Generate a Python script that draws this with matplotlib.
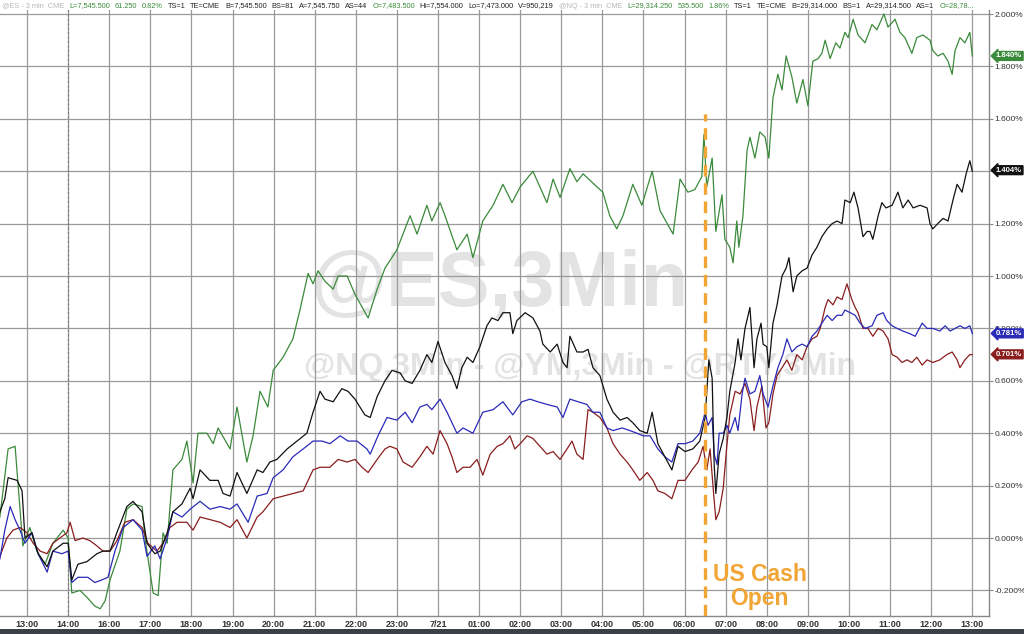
import matplotlib
matplotlib.use("Agg")
import matplotlib.pyplot as plt
from matplotlib.patches import Rectangle

# ── Data (x = hourly slot on the session axis, 0 = 13:00; values in %) ──────
X_LABELS = ["13:00", "14:00", "16:00", "17:00", "18:00", "19:00", "20:00", "21:00",
            "22:00", "23:00", "7/21", "01:00", "02:00", "03:00", "04:00", "05:00",
            "06:00", "07:00", "08:00", "09:00", "10:00", "11:00", "12:00", "13:00"]
Y_TICKS = [-0.2, 0.0, 0.2, 0.4, 0.6, 0.8, 1.0, 1.2, 1.4, 1.6, 1.8, 2.0]

NQ_X = [-0.66, -0.46, -0.29, -0.10, 0.07, 0.24, 0.44, 0.63, 0.88, 1.00, 1.09, 1.29, 1.48, 1.65,
        1.78, 1.90, 2.02, 2.26, 2.43, 2.58, 2.80, 2.87, 3.07, 3.19, 3.31, 3.41, 3.55, 3.77, 3.89,
        4.04, 4.16, 4.38, 4.53, 4.65, 4.94, 5.11, 5.35, 5.50, 5.67, 5.86, 5.99, 6.23, 6.47, 6.64,
        6.84, 6.96, 7.08, 7.25, 7.45, 7.57, 7.79, 7.98, 8.30, 8.52, 8.71, 9.00, 9.32, 9.49, 9.73,
        9.85, 10.05, 10.17, 10.46, 10.71, 10.85, 11.09, 11.34, 11.58, 11.80, 12.00, 12.31, 12.48,
        12.65, 12.80, 12.97, 13.21, 13.38, 13.53, 13.87, 14.01, 14.18, 14.35, 14.50, 14.74, 14.96,
        15.21, 15.40, 15.72, 15.89, 16.08, 16.25, 16.42, 16.47, 16.54, 16.67, 16.76, 16.91, 16.98,
        17.10, 17.18, 17.27, 17.32, 17.42, 17.52, 17.59, 17.71, 17.83, 17.96, 18.05, 18.15, 18.27,
        18.37, 18.47, 18.61, 18.73, 18.88, 19.00, 19.12, 19.25, 19.34, 19.42, 19.54, 19.68, 19.78,
        19.90, 19.98, 20.10, 20.22, 20.39, 20.56, 20.68, 20.85, 20.95, 21.12, 21.24, 21.36, 21.53,
        21.65, 21.80, 21.97, 22.04, 22.16, 22.29, 22.41, 22.51, 22.58, 22.70, 22.82, 22.94, 23.00]
NQ = [0.08, 0.34, 0.35, -0.03, 0.04, -0.05, -0.10, -0.02, 0.03, 0.00, -0.21, -0.20, -0.23, -0.26,
      -0.27, -0.24, -0.16, -0.05, 0.11, 0.13, 0.12, 0.00, -0.21, -0.22, 0.02, -0.02, 0.26, 0.30, 0.37,
      0.21, 0.40, 0.40, 0.36, 0.42, 0.34, 0.50, 0.29, 0.39, 0.56, 0.50, 0.64, 0.69, 0.76, 0.87,
      1.01, 0.97, 1.02, 0.98, 0.95, 1.00, 1.00, 0.93, 0.84, 0.95, 1.03, 1.10, 1.23, 1.16, 1.27,
      1.21, 1.28, 1.23, 1.10, 1.16, 1.07, 1.21, 1.27, 1.35, 1.28, 1.34, 1.40, 1.34,
      1.28, 1.37, 1.30, 1.41, 1.36, 1.39, 1.34, 1.32, 1.23, 1.18, 1.23, 1.35, 1.27,
      1.40, 1.25, 1.16, 1.37, 1.32, 1.33, 1.38, 1.54, 1.34, 1.45, 1.17, 1.31, 1.14,
      1.11, 1.05, 1.21, 1.11, 1.23, 1.48, 1.53, 1.45, 1.55, 1.53, 1.45, 1.68, 1.77,
      1.71, 1.84, 1.76, 1.66, 1.75, 1.65, 1.82, 1.83, 1.85, 1.90, 1.83, 1.89, 1.87,
      1.93, 1.91, 1.98, 1.92, 1.89, 1.96, 1.94, 2.00, 1.95, 1.98, 1.93, 1.91, 1.85,
      1.91, 1.92, 1.90, 1.86, 1.84, 1.85, 1.82, 1.77, 1.86, 1.91, 1.89, 1.93, 1.84]

ES_X = [-0.66, -0.54, -0.46, -0.24, -0.12, -0.05, 0.12, 0.27, 0.49, 0.63, 0.88, 1.00, 1.09, 1.24,
        1.46, 1.70, 1.85, 2.02, 2.21, 2.43, 2.58, 2.80, 2.92, 3.11, 3.24, 3.41, 3.55, 3.77, 3.97,
        4.04, 4.21, 4.45, 4.65, 4.77, 4.94, 5.11, 5.35, 5.60, 5.74, 5.91, 6.08, 6.33, 6.57, 6.81,
        6.96, 7.13, 7.25, 7.45, 7.66, 7.81, 7.98, 8.22, 8.35, 8.52, 8.71, 8.88, 9.08, 9.20, 9.37,
        9.56, 9.73, 9.85, 10.00, 10.17, 10.34, 10.46, 10.58, 10.71, 10.85, 11.02, 11.19, 11.31,
        11.46, 11.58, 11.75, 11.82, 11.92, 12.12, 12.31, 12.48, 12.55, 12.73, 12.90, 13.04, 13.14,
        13.21, 13.38, 13.53, 13.65, 13.77, 13.94, 14.11, 14.26, 14.43, 14.60, 14.74, 14.91, 15.09,
        15.21, 15.35, 15.52, 15.69, 15.84, 16.01, 16.20, 16.37, 16.50, 16.59, 16.67, 16.72, 16.76,
        16.84, 16.94, 17.03, 17.10, 17.23, 17.30, 17.37, 17.47, 17.59, 17.69, 17.76, 17.86, 17.91,
        18.00, 18.05, 18.15, 18.25, 18.37, 18.47, 18.54, 18.64, 18.73, 18.86, 18.98, 19.10, 19.22,
        19.34, 19.47, 19.59, 19.71, 19.83, 19.90, 20.03, 20.12, 20.22, 20.34, 20.44, 20.51, 20.58,
        20.71, 20.80, 20.90, 21.05, 21.19, 21.31, 21.44, 21.56, 21.73, 21.90, 21.97, 22.04, 22.16,
        22.29, 22.41, 22.53, 22.63, 22.75, 22.85, 22.94, 23.00]
ES = [0.10, 0.15, 0.23, 0.22, 0.18, 0.00, 0.02, -0.06, -0.11, -0.05, -0.02, -0.02, -0.16, -0.10,
      -0.09, -0.06, -0.05, -0.05, 0.03, 0.12, 0.14, 0.10, -0.02, -0.06, -0.05, 0.02, 0.10, 0.13, 0.19,
      0.15, 0.26, 0.22, 0.22, 0.17, 0.16, 0.25, 0.17, 0.26, 0.25, 0.29, 0.30, 0.34, 0.37, 0.40,
      0.48, 0.56, 0.53, 0.52, 0.57, 0.56, 0.53, 0.47, 0.46, 0.54, 0.60, 0.64, 0.63, 0.60, 0.59,
      0.64, 0.70, 0.67, 0.75, 0.67, 0.62, 0.57, 0.65, 0.69, 0.67, 0.73, 0.81, 0.84,
      0.83, 0.86, 0.86, 0.78, 0.83, 0.86, 0.84, 0.79, 0.74, 0.71, 0.74, 0.67, 0.65,
      0.77, 0.71, 0.71, 0.72, 0.65, 0.62, 0.53, 0.48, 0.45, 0.46, 0.44, 0.41, 0.40,
      0.48, 0.36, 0.31, 0.26, 0.35, 0.33, 0.34, 0.37, 0.46, 0.68, 0.61, 0.28, 0.17,
      0.32, 0.38, 0.46, 0.56, 0.67, 0.76, 0.68, 0.80, 0.88, 0.65, 0.76, 0.82, 0.74,
      0.73, 0.65, 0.82, 0.89, 1.00, 1.03, 1.07, 0.94, 1.00, 1.02, 1.03, 1.08, 1.11,
      1.15, 1.18, 1.20, 1.21, 1.20, 1.29, 1.28, 1.32, 1.26, 1.15, 1.17, 1.17, 1.14,
      1.23, 1.28, 1.26, 1.27, 1.32, 1.26, 1.29, 1.26, 1.27, 1.26, 1.20, 1.18, 1.20,
      1.22, 1.21, 1.29, 1.35, 1.32, 1.39, 1.44, 1.40]

YM_X = [-0.66, -0.54, -0.41, -0.29, -0.17, -0.05, 0.12, 0.27, 0.49, 0.63, 0.85, 1.00, 1.09, 1.24,
        1.48, 1.65, 1.82, 1.97, 2.14, 2.34, 2.58, 2.80, 2.92, 3.11, 3.24, 3.41, 3.55, 3.77, 3.97,
        4.21, 4.45, 4.70, 4.94, 5.11, 5.38, 5.60, 5.84, 5.99, 6.23, 6.47, 6.72, 6.96, 7.18, 7.37,
        7.62, 7.81, 8.03, 8.27, 8.35, 8.54, 8.76, 9.00, 9.20, 9.37, 9.56, 9.73, 9.85, 10.05, 10.22,
        10.46, 10.61, 10.85, 11.09, 11.34, 11.58, 11.82, 12.04, 12.24, 12.43, 12.65, 12.90, 13.04,
        13.21, 13.41, 13.62, 13.77, 13.94, 14.11, 14.26, 14.48, 14.67, 14.84, 14.99, 15.16, 15.35,
        15.52, 15.69, 15.84, 16.01, 16.20, 16.37, 16.50, 16.57, 16.67, 16.72, 16.79, 16.84, 16.94,
        17.03, 17.10, 17.23, 17.30, 17.40, 17.47, 17.59, 17.71, 17.83, 17.91, 18.03, 18.15, 18.27,
        18.39, 18.49, 18.61, 18.73, 18.86, 18.98, 19.10, 19.22, 19.34, 19.47, 19.59, 19.71, 19.83,
        19.90, 20.03, 20.15, 20.27, 20.39, 20.56, 20.68, 20.83, 20.92, 21.05, 21.17, 21.31, 21.48,
        21.61, 21.78, 21.90, 22.04, 22.21, 22.34, 22.46, 22.58, 22.70, 22.82, 22.94, 23.00]
YM = [-0.08, 0.03, 0.12, 0.07, 0.03, -0.02, 0.02, -0.06, -0.13, -0.05, -0.06, -0.05, -0.17, -0.15,
      -0.15, -0.17, -0.16, -0.15, -0.05, 0.04, 0.07, 0.03, -0.07, -0.03, -0.08, 0.00, 0.10, 0.08, 0.11,
      0.14, 0.11, 0.12, 0.11, 0.13, 0.06, 0.16, 0.17, 0.23, 0.26, 0.31, 0.34, 0.37, 0.37, 0.36,
      0.39, 0.37, 0.37, 0.34, 0.32, 0.39, 0.46, 0.45, 0.48, 0.44, 0.50, 0.51, 0.49, 0.53, 0.48,
      0.40, 0.42, 0.40, 0.48, 0.49, 0.52, 0.47, 0.52, 0.53, 0.52, 0.51, 0.50, 0.46,
      0.53, 0.52, 0.51, 0.48, 0.48, 0.42, 0.41, 0.42, 0.41, 0.40, 0.39, 0.39, 0.34,
      0.31, 0.29, 0.36, 0.36, 0.37, 0.40, 0.48, 0.43, 0.46, 0.32, 0.28, 0.40, 0.40,
      0.43, 0.40, 0.46, 0.41, 0.55, 0.61, 0.55, 0.56, 0.62, 0.55, 0.50, 0.58, 0.65,
      0.70, 0.76, 0.71, 0.73, 0.74, 0.73, 0.77, 0.79, 0.82, 0.85, 0.83, 0.85, 0.85,
      0.87, 0.86, 0.85, 0.82, 0.80, 0.81, 0.85, 0.86, 0.83, 0.81, 0.80, 0.79, 0.78,
      0.77, 0.82, 0.80, 0.80, 0.79, 0.81, 0.79, 0.80, 0.81, 0.80, 0.81, 0.78]

RTY_X = [-0.66, -0.49, -0.34, -0.17, 0.00, 0.15, 0.32, 0.49, 0.63, 0.80, 0.97, 1.05, 1.17, 1.36,
         1.53, 1.70, 1.85, 2.02, 2.19, 2.38, 2.58, 2.80, 2.94, 3.16, 3.31, 3.48, 3.65, 3.89, 4.04,
         4.21, 4.45, 4.70, 4.94, 5.11, 5.35, 5.60, 5.74, 5.99, 6.23, 6.47, 6.72, 6.96, 7.13, 7.37,
         7.57, 7.79, 7.98, 8.15, 8.30, 8.52, 8.71, 8.83, 9.00, 9.15, 9.37, 9.56, 9.73, 9.88, 10.05,
         10.22, 10.34, 10.46, 10.61, 10.78, 10.95, 11.09, 11.27, 11.44, 11.58, 11.75, 11.87, 12.00,
         12.17, 12.31, 12.48, 12.65, 12.80, 12.97, 13.14, 13.26, 13.38, 13.53, 13.65, 13.77, 13.94,
         14.11, 14.26, 14.43, 14.60, 14.74, 14.91, 15.09, 15.23, 15.35, 15.52, 15.69, 15.84, 16.01,
         16.18, 16.33, 16.45, 16.54, 16.62, 16.69, 16.76, 16.84, 16.94, 17.01, 17.10, 17.23, 17.35,
         17.47, 17.59, 17.69, 17.76, 17.88, 17.98, 18.05, 18.15, 18.25, 18.37, 18.49, 18.61, 18.73,
         18.86, 18.98, 19.10, 19.22, 19.30, 19.42, 19.49, 19.61, 19.71, 19.83, 19.95, 20.07, 20.15,
         20.22, 20.34, 20.46, 20.58, 20.71, 20.83, 20.95, 21.05, 21.17, 21.29, 21.41, 21.53, 21.65,
         21.78, 21.90, 22.04, 22.21, 22.38, 22.51, 22.63, 22.70, 22.82, 22.94, 23.00]
RTY = [-0.07, 0.00, 0.03, 0.04, 0.02, -0.02, -0.05, -0.06, -0.02, 0.00, 0.02, 0.06, -0.01, 0.00,
       -0.01, -0.03, -0.05, -0.05, -0.01, 0.06, 0.07, 0.04, -0.02, -0.05, -0.02, 0.04, 0.06, 0.06, 0.03,
       0.08, 0.07, 0.06, 0.04, 0.07, 0.00, 0.08, 0.10, 0.15, 0.16, 0.17, 0.18, 0.26, 0.27, 0.27,
       0.30, 0.29, 0.30, 0.27, 0.25, 0.30, 0.34, 0.35, 0.34, 0.29, 0.27, 0.31, 0.35, 0.32, 0.41,
       0.36, 0.31, 0.25, 0.27, 0.27, 0.30, 0.24, 0.32, 0.35, 0.36, 0.39, 0.34, 0.36,
       0.39, 0.38, 0.35, 0.32, 0.33, 0.30, 0.34, 0.37, 0.32, 0.30, 0.49, 0.48, 0.46,
       0.42, 0.36, 0.32, 0.29, 0.26, 0.22, 0.25, 0.22, 0.18, 0.17, 0.15, 0.22, 0.22,
       0.26, 0.29, 0.35, 0.26, 0.34, 0.20, 0.07, 0.10, 0.19, 0.32, 0.47, 0.56, 0.55,
       0.59, 0.53, 0.41, 0.50, 0.58, 0.42, 0.44, 0.55, 0.62, 0.65, 0.68, 0.64, 0.70,
       0.68, 0.73, 0.76, 0.77, 0.80, 0.88, 0.91, 0.89, 0.92, 0.91, 0.97, 0.91, 0.88,
       0.86, 0.80, 0.80, 0.77, 0.80, 0.79, 0.76, 0.70, 0.69, 0.67, 0.68, 0.67, 0.69,
       0.66, 0.68, 0.67, 0.68, 0.70, 0.71, 0.68, 0.65, 0.68, 0.70, 0.70]

LAST = {"NQ": 1.840, "ES": 1.404, "YM": 0.781, "RTY": 0.701}
COLORS = {"NQ": "#3b8a3b", "ES": "#111111", "YM": "#2a2ab8", "RTY": "#8a1e1e"}
OPEN_SLOT = 16.5       # 06:30, US cash open
OPEN_LINE_TOP = 1.62

HEADER = [("@ES - 3 min  CME", "#b8b8b8"), ("L=7,545.500", "#3b8a3b"), ("61.250", "#3b8a3b"),
          ("0.82%", "#3b8a3b"), ("TS=1", "#222222"), ("TE=CME", "#222222"),
          ("B=7,545.500", "#222222"), ("BS=81", "#222222"), ("A=7,545.750", "#222222"),
          ("AS=44", "#222222"), ("O=7,483.500", "#3b8a3b"), ("Hi=7,554.000", "#222222"),
          ("Lo=7,473.000", "#222222"), ("V=950,219", "#222222"), ("@NQ - 3 min  CME", "#b8b8b8"),
          ("L=29,314.250", "#3b8a3b"), ("535.500", "#3b8a3b"), ("1.86%", "#3b8a3b"),
          ("TS=1", "#222222"), ("TE=CME", "#222222"), ("B=29,314.000", "#222222"),
          ("BS=1", "#222222"), ("A=29,314.500", "#222222"), ("AS=1", "#222222"),
          ("O=28,78...", "#3b8a3b")]

plt.rcParams["font.family"] = ["Liberation Sans", "DejaVu Sans"]

# ── Figure ───────────────────────────────────────────────────────────────────
fig = plt.figure(figsize=(10.24, 6.34), dpi=100)
ax = fig.add_axes([0.0, 0.0284, 0.9658, 0.9558])
ax.set_xlim(-0.657, 23.406)
ax.set_ylim(-0.2977, 2.0153)

ax.set_xticks(range(len(X_LABELS)))
ax.set_xticklabels(X_LABELS, fontsize=6.5, fontweight="bold", color="#333333")
ax.set_yticks(Y_TICKS)
ax.set_yticklabels([f"{v:.3f}%" for v in Y_TICKS], fontsize=6, color="#333333")
ax.yaxis.tick_right()
ax.tick_params(axis="x", length=0, pad=3)
ax.tick_params(axis="y", length=3, width=0.8, color="#888888", pad=1)
ax.grid(True, color="#9a9a9a", linewidth=0.9)
ax.set_axisbelow(True)
for side in ["left", "top"]:
    ax.spines[side].set_visible(False)
for side in ["right", "bottom"]:
    ax.spines[side].set_color("#888888")
    ax.spines[side].set_linewidth(1.0)

# watermarks
ax.text(0.5056, 0.546, "@ES,3Min", transform=ax.transAxes, ha="center", va="center",
        fontsize=56, fontweight="bold", color="#e3e3e3", zorder=0.5)
ax.text(0.586, 0.411, "@NQ,3Min - @YM,3Min - @RTY,3Min", transform=ax.transAxes,
        ha="center", va="center", fontsize=23, fontweight="bold", color="#e3e3e3", zorder=0.5)

# session break
ax.axvline(1, color="#777777", linewidth=0.8, linestyle=(0, (2, 2)), zorder=1)

ax.plot(NQ_X, NQ, color=COLORS["NQ"], linewidth=0.9, zorder=3)
ax.plot(RTY_X, RTY, color=COLORS["RTY"], linewidth=0.9, zorder=3)
ax.plot(YM_X, YM, color=COLORS["YM"], linewidth=0.9, zorder=3)
ax.plot(ES_X, ES, color=COLORS["ES"], linewidth=0.9, zorder=3)

# last value flags
ytr = ax.get_yaxis_transform()
for key in ["NQ", "ES", "YM", "RTY"]:
    ax.text(1.007, LAST[key], f"{LAST[key]:.3f}%", transform=ytr, ha="left", va="center",
            fontsize=5.6, fontweight="bold", color="white", clip_on=False, zorder=6,
            bbox=dict(boxstyle="larrow,pad=0.12", fc=COLORS[key], ec=COLORS[key]))

# US cash open marker
ax.vlines(OPEN_SLOT, -0.2977, OPEN_LINE_TOP, colors="#f0a535", linewidth=2.4,
          linestyles=(0, (3.5, 2)), zorder=4)
ax.text(0.768, 0.048, "US Cash\nOpen", transform=ax.transAxes, ha="center", va="center",
        fontsize=16.5, fontweight="bold", color="#f0a535", linespacing=1.05, zorder=5)

# header line
fig.canvas.draw()
renderer = fig.canvas.get_renderer()
xpos = 2
for txt, col in HEADER:
    t = fig.text(xpos / 1024, 1 - 6 / 634, txt, ha="left", va="center", fontsize=5.3, color=col)
    bb = t.get_window_extent(renderer=renderer)
    xpos = bb.x1 + 4.8

fig.patches.append(Rectangle((0, 0), 1, 5 / 634, transform=fig.transFigure,
                             facecolor="#3b4046", edgecolor="none"))

fig.savefig("out.png", dpi=100)
